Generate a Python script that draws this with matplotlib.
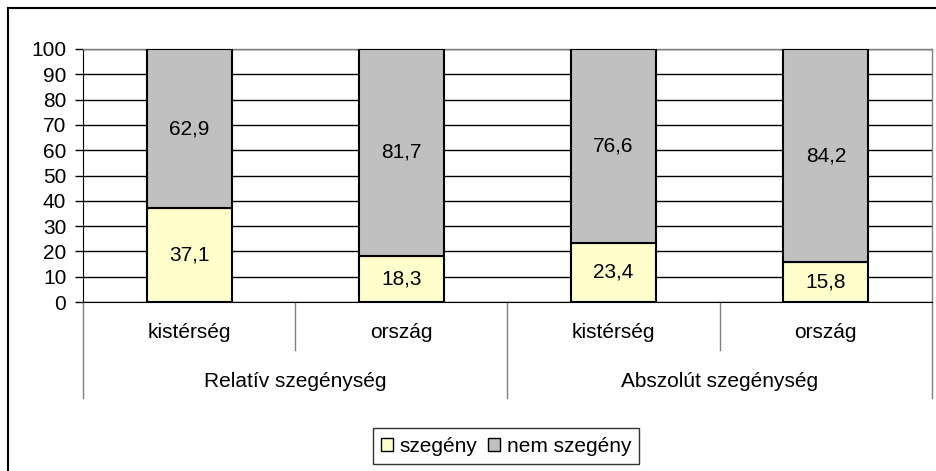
import matplotlib
matplotlib.use("Agg")
import matplotlib.pyplot as plt
from matplotlib.lines import Line2D
from matplotlib.patches import Patch
import matplotlib.transforms as mtransforms

plt.rcParams['font.family'] = ['Liberation Sans', 'DejaVu Sans']

categories = ["kistérség", "ország", "kistérség", "ország"]
groups = ["Relatív szegénység", "Abszolút szegénység"]
szegeny = [37.1, 18.3, 23.4, 15.8]
nem_szegeny = [62.9, 81.7, 76.6, 84.2]
yticks = list(range(0, 101, 10))

W, H = 937, 471
fig = plt.figure(figsize=(W / 100, H / 100), dpi=100)
ax = fig.add_axes([83 / W, 1 - 302 / H, (932 - 83) / W, (302 - 49) / H])

fs = 15
x = list(range(len(categories)))
ax.bar(x, szegeny, width=0.4, color="#FFFFCC", edgecolor="black", linewidth=1.5, zorder=3)
ax.bar(x, nem_szegeny, width=0.4, bottom=szegeny, color="#C0C0C0", edgecolor="black",
       linewidth=1.5, zorder=3)

for i in x:
    ax.text(i, szegeny[i] / 2, f"{szegeny[i]:.1f}".replace(".", ","), ha="center",
            va="center", fontsize=fs, zorder=4)
    ax.text(i, szegeny[i] + nem_szegeny[i] / 2, f"{nem_szegeny[i]:.1f}".replace(".", ","),
            ha="center", va="center", fontsize=fs, zorder=4)

ax.set_xlim(-0.5, 3.5)
ax.set_ylim(0, 100)
ax.set_yticks(yticks)
ax.set_yticklabels([str(t) for t in yticks], fontsize=fs)
ax.tick_params(axis="y", direction="out", length=6, width=1, pad=6)
ax.set_xticks([])
ax.yaxis.grid(True, color="black", linewidth=1)
ax.set_axisbelow(True)

for side in ["top", "right"]:
    ax.spines[side].set_color("#808080")
    ax.spines[side].set_linewidth(1)
ax.spines["left"].set_color("black")
ax.spines["bottom"].set_color("black")

# category axis separators and labels
trans = mtransforms.blended_transform_factory(ax.transData, ax.transAxes)
for xs in [0.5, 2.5]:
    ax.add_line(Line2D([xs, xs], [0, -0.19], transform=trans, color="#808080",
                       linewidth=1, clip_on=False))
for xs in [-0.5, 1.5, 3.5]:
    ax.add_line(Line2D([xs, xs], [0, -0.379], transform=trans, color="#808080",
                       linewidth=1, clip_on=False))
for i, c in enumerate(categories):
    ax.text(i, -0.1225, c, transform=trans, ha="center", va="center", fontsize=fs)
for j, g in enumerate(groups):
    ax.text(0.5 + 2 * j, -0.316, g, transform=trans, ha="center", va="center", fontsize=fs)

# outer chart border
fig.add_artist(Line2D([8 / W, 8 / W], [1 - 8 / H, 0], transform=fig.transFigure,
                      color="black", linewidth=1.5))
fig.add_artist(Line2D([8 / W, 1], [1 - 8 / H, 1 - 8 / H], transform=fig.transFigure,
                      color="black", linewidth=1.5))

handles = [Patch(facecolor="#FFFFCC", edgecolor="black", label="szegény"),
           Patch(facecolor="#C0C0C0", edgecolor="black", label="nem szegény")]
leg = fig.legend(handles=handles, loc="center", bbox_to_anchor=(506 / W, 1 - 446 / H),
                 ncol=2, fontsize=fs, frameon=True, fancybox=False, edgecolor="black",
                 handlelength=0.6, handleheight=0.6, handletextpad=0.3, columnspacing=0.5,
                 borderpad=0.4)
leg.get_frame().set_linewidth(1)

fig.savefig("out.png", dpi=100)
